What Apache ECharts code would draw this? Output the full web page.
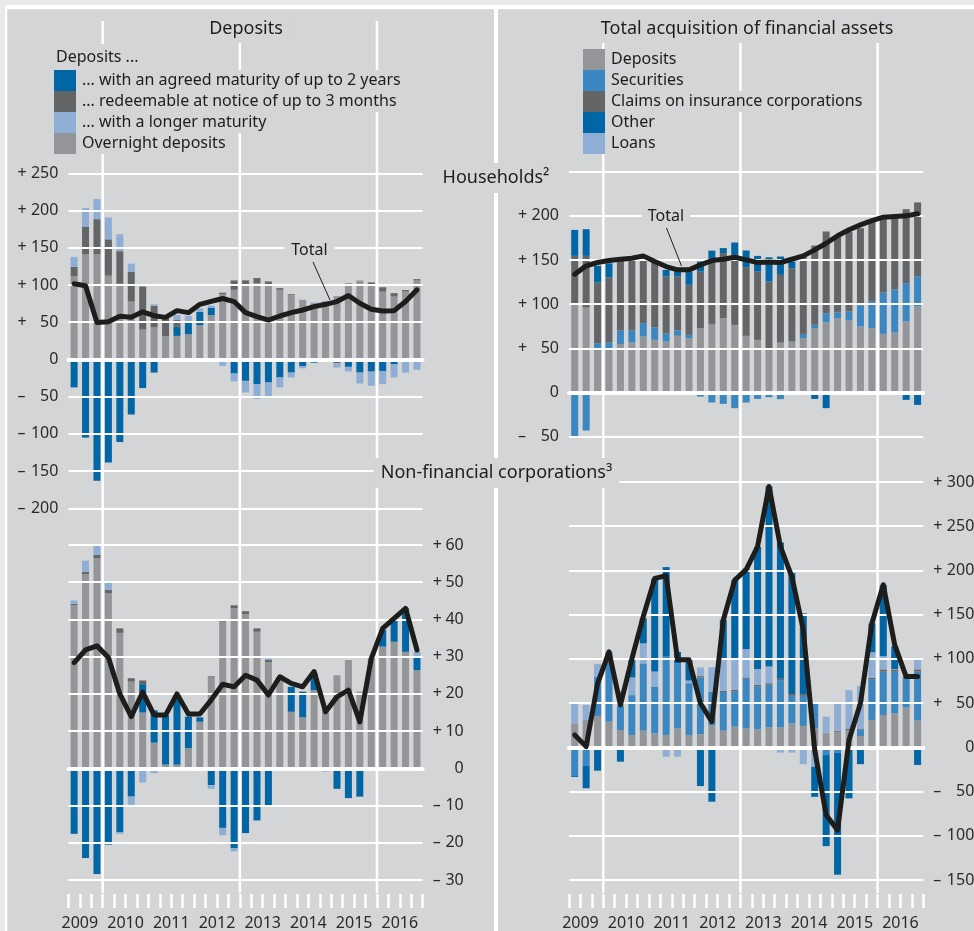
<!DOCTYPE html>
<html><head><meta charset="utf-8">
<script src="https://cdn.jsdelivr.net/npm/echarts@6/dist/echarts.min.js"></script>
<style>html,body{margin:0;padding:0;background:#d4d5d7}#c{width:974px;height:931px}</style>
</head><body><div id="c"></div>
<script>
// ---------- categories ----------
const quarters = ['2009Q2','2009Q3','2009Q4','2010Q1','2010Q2','2010Q3','2010Q4','2011Q1','2011Q2','2011Q3','2011Q4',
  '2012Q1','2012Q2','2012Q3','2012Q4','2013Q1','2013Q2','2013Q3','2013Q4','2014Q1','2014Q2','2014Q3','2014Q4',
  '2015Q1','2015Q2','2015Q3','2015Q4','2016Q1','2016Q2','2016Q3','2016Q4'];
const yearLineYears = ['2010','2013','2016'];

// ---------- Deposits: households (top left) ----------
const hhOvernight = [111.6,141,141,112.5,101.6,77.7,40,43,31,31.6,33.9,46,59.6,87.6,93.5,99.4,102.5,100.3,93.5,86.7,80,75.4,77.7,85,102.5,106,99,91,84.5,91.2,106];
const hhAgreed    = [-37.6,-105,-163,-138.5,-111,-74,-38.5,-17.7,0,12.2,15.4,18,10,0,-19,-28.8,-33,-31,-24.3,-17.7,-8.8,-4.4,-1.5,-3,-10,-17.7,-16.4,-15.5,-6.6,0,0];
const hhRedeem    = [12.6,37.5,47.4,48.8,43.8,39.7,58,29,26,9,0,0,0,2,12.6,6.8,6.8,4.5,2.3,1,0,0,-2,-2,0,0,4.5,5.9,4.5,2,1.8];
const hhLonger    = [13.5,24.8,27,29.4,22.6,11.3,2,2,0,6.8,9,4.5,2.7,-8.8,-10.6,-15.5,-20,-20.8,-13.3,-6.6,-3.1,1,1,-6,-6.2,-14.6,-19,-17.7,-17.7,-17.7,-14];
const hhDepTotal  = [101.6,99,49.7,50.6,58,56.5,64,58.7,56.5,65.5,62.8,74,78,81.8,77.7,62.8,57.4,52.8,58.3,62.8,66.4,70.9,74,77.7,85.8,75.4,67.3,65,65.5,77.7,93.5];

// ---------- Deposits: non-financial corporations (bottom left) ----------
const nfcOvernight = [43.9,52.1,56.4,47,36.4,23.3,15,6.9,1,1,5.4,12.5,24.4,39.4,43,41.4,36.7,28.5,24,15.2,13.7,21,16,25,29.1,20.6,30,32.7,34,31.3,26.4];
const nfcAgreed    = [-17.6,-24.1,-28.4,-20.5,-17.2,-7.6,7.6,8.7,13.3,19,8.5,1.2,-4.5,-16,-21.4,-17.4,-14,-10,0.5,6.7,6.9,4.5,0,-5.5,-8,-7.6,0,4.5,6,11.7,3.6];
const nfcRedeem    = [0.3,0.7,0.9,0.9,1.2,0.9,1,0,0,0,0,0,0.3,0.6,0.8,0.8,0.9,0.6,0,0,0,0,0,0,0,0,0,0,0,0,0];
const nfcLonger    = [0.9,3,4,2,-0.4,-2.7,-3.8,-1.3,0,0,0,0,-1,-2,-0.9,0,0,0.4,0,0,0,0,-0.9,0,0,0,-0.3,0,0,0,1.3];
const nfcDepTotal  = [28.4,31.8,32.9,29.8,20,13.9,20.5,14.3,14.3,20,14.6,14.6,18.4,22.6,21.9,25,23.7,19.7,24.6,22.8,21.9,26,15.2,19.2,21,12.5,29.5,37.6,40.3,43,31.8];

// ---------- Total acquisition of financial assets: households (top right) ----------
const hhAssetDeposits   = [101.1,96.2,50.2,49,55,56.6,63.4,59.6,57.7,64.2,61.5,72.8,77.7,84.2,76.6,64.2,59.6,49,56.6,57.7,61.5,72.8,79.6,84.2,81.5,74.7,72.8,66.4,67.9,80.4,97.4];
const hhAssetSecurities = [-51.7,-43,5.7,7.5,15,13.6,15.1,14.3,9.4,6,3.8,-4.5,-11.3,-12.8,-17.7,-11.3,-7.2,-5.3,-7.5,0,4.9,3.8,10.2,6.4,10.2,23.8,30.9,46.8,49,43.4,34];
const hhAssetInsurance  = [53.6,58.5,68.7,74,81,82.3,75.5,74,64.2,61.1,56.6,64.2,74.3,73.6,79.2,77.7,77.4,76.6,76.6,83,87.5,89.8,92.5,85.3,90.6,87.5,90,84.2,81.5,83.8,83.8];
const hhAssetOther      = [29.4,30.2,18.9,15.8,0,0,0,0,7.5,7.5,15.1,11.3,8.7,5.7,14,18.9,17.7,27.5,20.8,7.5,0,-7.2,-17.7,0,0,0,0,0,0,-8.3,-14];
const hhAssetLoans      = [0,0,0,0,0,0,0,0,0,0,0,0,0,0,0,0,0,0,0,0,0,0,0,0,0,0,0,0,0,0,0];
const hhAssetTotal      = [134,143.4,147.2,149.4,150.9,152.1,154.7,148.3,142.6,138.9,138.9,144.5,149.4,150.9,153.2,150.2,147.2,147.9,147.2,150.9,154.7,161.5,169,177.4,184.2,189.8,194.7,198.5,199.2,200,202.3];

// ---------- Total acquisition of financial assets: NFCs (bottom right) ----------
const nfcAssetDeposits   = [27.2,31,35.5,29,19.6,14,18.9,15.8,14,21.5,14,15,25,18.9,23.4,21.5,20.4,22.6,22.6,27.2,24.2,22,16.6,17.7,19.6,12.8,31,36.6,38.5,45.3,30.2];
const nfcAssetSecurities = [-32.5,-21,44.5,79,27,45,76,52.9,88.6,73.5,58.5,64,38,43.6,40,56,48.6,48.4,53.4,31,34,27,-8.7,-6,0,7.5,46,49,47,34,55.5];
const nfcAssetInsurance  = [0,0,0,0,0,0,0,0,0,0,0,1.5,0,1.5,1.5,1.5,1.5,1.5,1.5,2,2,2,0,1,1.5,1,1.5,2.5,2.5,1,2.5];
const nfcAssetLoans      = [22.6,17,14.3,0,17,20,22.7,17,-10.6,-10.6,3,9.8,27.6,36.6,35,32,18,18.8,-6,-6,-19,-22,18.1,32.8,43.5,48,29,15,0.5,0,10.7];
const nfcAssetOther      = [-1,-25.3,-26.4,0,-16.2,21,28.3,105,101.2,13,23,-43.8,-61.5,43.6,89,91,138.3,203.7,154,137,91.3,-34,-103,-138,-57.7,-19,32.5,80.4,25.7,-2,-20];
const nfcAssetTotal      = [14,0.8,72,108,48,100,148,191,194,98.9,98.9,49.8,29,144,189,201,227,295,227,193,133,-3,-76.6,-93.6,8.3,49.8,140,183.8,115.8,80,80];

// ---------- names ----------
const depNames = ['... with an agreed maturity of up to 2 years','... redeemable at notice of up to 3 months','... with a longer maturity','Overnight deposits'];
const assetNames = ['Deposits','Securities','Claims on insurance corporations','Other','Loans'];

// ---------- style ----------
const BG = '#d4d5d7', TXT = '#1d1d1b', LAB = '#2a2a2a';
const FONT = '"Noto Sans", "DejaVu Sans", sans-serif';
const COL = {gray:'#939598', dgray:'#646567', lblue:'#8eaed6', dblue:'#0066a5', sec:'#3a87c1'};

const chart = echarts.init(document.getElementById('c'), null, {renderer:'canvas'});

function fmtY(v){
  if (v === 0) return '{s| }{n|0}';
  return '{s|' + (v > 0 ? '+' : '\u2013') + '}{n|' + Math.abs(v) + '}';
}
function richY(nw){
  return {
    s:{width:12, align:'left', fontSize:16, fontFamily:FONT, color:LAB},
    n:{width:nw, align:'right', fontSize:16, fontFamily:FONT, color:LAB}
  };
}
function yAxis(g, min, max, interval, pos, nw, hide){
  return {
    type:'value', gridIndex:g, min:min, max:max, interval:interval, position:pos, z:3,
    axisLine:{show:false}, axisTick:{show:false},
    splitLine:{show:true, lineStyle:{color:'#fff', width:2}},
    axisLabel:{margin: pos === 'left' ? 10 : 10, fontSize:16, fontFamily:FONT, color:LAB,
      formatter:function(v){ return (hide && hide.indexOf(v) >= 0) ? '' : fmtY(v); }, rich:richY(nw)}
  };
}
function zeroAxis(g){
  return {type:'category', gridIndex:g, data:quarters, z:4,
    axisLine:{show:true, onZero:true, lineStyle:{color:'#fff', width:4}},
    axisTick:{show:false}, axisLabel:{show:false}, splitLine:{show:false}};
}
function tickAxis(g){
  return {type:'category', gridIndex:g, data:quarters, position:'bottom', offset:14,
    axisLine:{show:false, onZero:false},
    axisTick:{show:true, interval:0, length:14, lineStyle:{color:'#fff', width:2.5}},
    axisLabel:{show:false}, splitLine:{show:false}};
}
function labelAxis(g){
  return {type:'value', gridIndex:g, min:0, max:quarters.length, interval:1, position:'bottom', offset:14,
    axisLine:{show:false, onZero:false}, axisTick:{show:false}, splitLine:{show:false},
    axisLabel:{show:true, margin:21, fontSize:16, fontFamily:FONT, color:LAB, showMinLabel:true, showMaxLabel:true,
      formatter:function(v){ const q = quarters[v]; return (q && q.slice(4) === 'Q3') ? q.slice(0,4) : ''; }}};
}
function bar(name, g, data, color){
  return {type:'bar', name:name, xAxisIndex:g, yAxisIndex:g, stack:'s'+g, data:data, barWidth:7, z:2,
    itemStyle:{color:color}, emphasis:{disabled:true}, animation:false};
}
function total(g, data){
  return {type:'line', name:'Total', xAxisIndex:g, yAxisIndex:g, data:data, symbol:'none', z:5,
    lineStyle:{color:'#1d1d1b', width:5, join:'round', cap:'round'}, emphasis:{disabled:true}, animation:false};
}

const legendText = {fontSize:16, fontFamily:FONT, color:TXT, lineHeight:21, backgroundColor:BG, padding:[0,4,0,1]};

const option = {
  backgroundColor: BG,
  animation:false,
  grid:[
    {left:68.4, top:173.3, width:354.3, height:335, outerBoundsMode:'none', containLabel:false},
    {left:68.4, top:545,   width:354.3, height:335, outerBoundsMode:'none', containLabel:false},
    {left:569,  top:171.7, width:354.3, height:265, outerBoundsMode:'none', containLabel:false},
    {left:569,  top:482,   width:354.3, height:398, outerBoundsMode:'none', containLabel:false}
  ],
  xAxis:[zeroAxis(0), zeroAxis(1), zeroAxis(2), zeroAxis(3), tickAxis(1), tickAxis(3), labelAxis(1), labelAxis(3)],
  yAxis:[
    yAxis(0, -200, 250, 50, 'left', 29),
    yAxis(1, -30, 60, 10, 'right', 19),
    yAxis(2, -50, 250, 50, 'left', 29, [250]),
    yAxis(3, -150, 300, 50, 'right', 29)
  ],
  legend:[
    {data:depNames, orient:'vertical', left:54, top:70, padding:0, itemWidth:22, itemHeight:21, itemGap:0,
      icon:'rect', selectedMode:false, textStyle:legendText},
    {data:assetNames, orient:'vertical', left:583, top:49, padding:0, itemWidth:22, itemHeight:21, itemGap:0,
      icon:'rect', selectedMode:false, textStyle:legendText}
  ],
  series:[
    bar(depNames[3], 0, hhOvernight, COL.gray),
    bar(depNames[0], 0, hhAgreed, COL.dblue),
    bar(depNames[1], 0, hhRedeem, COL.dgray),
    bar(depNames[2], 0, hhLonger, COL.lblue),
    total(0, hhDepTotal),
    bar(depNames[3], 1, nfcOvernight, COL.gray),
    bar(depNames[0], 1, nfcAgreed, COL.dblue),
    bar(depNames[1], 1, nfcRedeem, COL.dgray),
    bar(depNames[2], 1, nfcLonger, COL.lblue),
    total(1, nfcDepTotal),
    bar(assetNames[0], 2, hhAssetDeposits, COL.gray),
    bar(assetNames[1], 2, hhAssetSecurities, COL.sec),
    bar(assetNames[2], 2, hhAssetInsurance, COL.dgray),
    bar(assetNames[4], 2, hhAssetLoans, COL.lblue),
    bar(assetNames[3], 2, hhAssetOther, COL.dblue),
    total(2, hhAssetTotal),
    bar(assetNames[0], 3, nfcAssetDeposits, COL.gray),
    bar(assetNames[1], 3, nfcAssetSecurities, COL.sec),
    bar(assetNames[2], 3, nfcAssetInsurance, COL.dgray),
    bar(assetNames[4], 3, nfcAssetLoans, COL.lblue),
    bar(assetNames[3], 3, nfcAssetOther, COL.dblue),
    total(3, nfcAssetTotal)
  ]
};
chart.setOption(option);

// ---------- decorations (year-line positions from the axis scale) ----------
const gfx = [];
gfx.push({type:'rect', z:0, shape:{x:0, y:0, width:974, height:5}, style:{fill:'#e9e9eb'}});
gfx.push({type:'rect', z:0, shape:{x:0, y:0, width:5, height:931}, style:{fill:'#e9e9eb'}});
gfx.push({type:'rect', z:0, shape:{x:5, y:5, width:969, height:4.3}, style:{fill:'#ffffff'}});
gfx.push({type:'rect', z:0, shape:{x:5, y:5, width:2.3, height:926}, style:{fill:'#ffffff'}});
gfx.push({type:'rect', z:1, shape:{x:494, y:9, width:4, height:922}, style:{fill:'#ffffff'}});

[6, 7].forEach(function(ax){
  yearLineYears.forEach(function(y){
    const idx = quarters.indexOf(y + 'Q1');
    const x = chart.convertToPixel({xAxisIndex:ax}, idx);
    gfx.push({type:'line', z:1, shape:{x1:x, y1:21, x2:x, y2:893}, style:{stroke:'#ffffff', lineWidth:2.5}});
  });
});

function txt(t, x, y, size, align, pad){
  return {type:'text', z:100, x:x, y:y,
    style:{text:t, fill:TXT, font: size + 'px ' + FONT, align:align, verticalAlign:'middle',
      backgroundColor:BG, padding:pad}};
}
gfx.push(txt('Deposits', 246, 29, 18, 'center', [5, 8]));
gfx.push(txt('Total acquisition of financial assets', 747, 29, 18, 'center', [5, 8]));
gfx.push(txt('Deposits ...', 55, 57, 16, 'left', [5, 4, 5, 1]));
gfx.push(txt('Households\u00b2', 496, 178, 18, 'center', [6, 7]));
gfx.push(txt('Non-financial corporations\u00b3', 496.5, 473, 18, 'center', [6, 7]));
gfx.push(txt('Total', 309.5, 250, 16, 'center', [3, 7]));
gfx.push(txt('Total', 666, 216.5, 16, 'center', [3, 6]));
gfx.push({type:'line', z:100, shape:{x1:313, y1:262, x2:330, y2:300}, style:{stroke:'#1d1d1b', lineWidth:1}});
gfx.push({type:'line', z:100, shape:{x1:666.5, y1:228, x2:681.5, y2:266}, style:{stroke:'#1d1d1b', lineWidth:1}});

chart.setOption({graphic: gfx});
</script></body></html>
